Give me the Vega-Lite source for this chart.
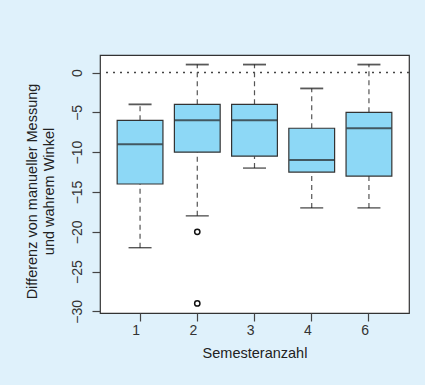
{
  "$schema": "https://vega.github.io/schema/vega-lite/v6.json",
  "autosize": {"type": "none"},
  "padding": {"left": 100, "top": 55, "right": 16, "bottom": 72},
  "width": 309,
  "height": 258,
  "background": "#dff1fb",
  "config": {
    "view": {"fill": "white", "stroke": "#333333", "strokeWidth": 1.2},
    "font": "Liberation Sans",
    "axis": {
      "labelFont": "Liberation Sans",
      "titleFont": "Liberation Sans",
      "labelFontSize": 14,
      "titleFontSize": 14.5,
      "titleFontWeight": "normal",
      "labelColor": "#333333",
      "titleColor": "#222222",
      "tickColor": "#444444",
      "domain": false,
      "grid": false,
      "tickSize": 8,
      "tickWidth": 1.2
    }
  },
  "datasets": {
    "boxes": [
      {"sem": "1", "lower": -22, "q1": -14, "median": -9, "q3": -6, "upper": -4},
      {"sem": "2", "lower": -18, "q1": -10, "median": -6, "q3": -4, "upper": 1},
      {"sem": "3", "lower": -12, "q1": -10.5, "median": -6, "q3": -4, "upper": 1},
      {"sem": "4", "lower": -17, "q1": -12.5, "median": -11, "q3": -7, "upper": -2},
      {"sem": "6", "lower": -17, "q1": -13, "median": -7, "q3": -5, "upper": 1}
    ],
    "outliers": [
      {"sem": "2", "value": -20},
      {"sem": "2", "value": -29}
    ]
  },
  "layer": [
    {
      "data": {"values": [{"ref": 0}]},
      "mark": {"type": "rule", "strokeDash": [2, 5], "color": "#444444", "strokeWidth": 1.3},
      "encoding": {"y": {"field": "ref", "type": "quantitative"}}
    },
    {
      "data": {"name": "boxes"},
      "mark": {"type": "rule", "strokeDash": [5, 4], "color": "#555555", "strokeWidth": 1.2},
      "encoding": {
        "x": {"field": "sem", "type": "nominal"},
        "y": {"field": "q3", "type": "quantitative"},
        "y2": {"field": "upper"}
      }
    },
    {
      "data": {"name": "boxes"},
      "mark": {"type": "rule", "strokeDash": [5, 4], "color": "#555555", "strokeWidth": 1.2},
      "encoding": {
        "x": {"field": "sem", "type": "nominal"},
        "y": {"field": "lower", "type": "quantitative"},
        "y2": {"field": "q1"}
      }
    },
    {
      "data": {"name": "boxes"},
      "mark": {"type": "bar", "fill": "#8dd8f6", "stroke": "#333333", "strokeWidth": 1.2},
      "encoding": {
        "x": {
          "field": "sem",
          "type": "nominal",
          "sort": null,
          "scale": {"type": "band", "paddingInner": 0.2, "paddingOuter": 0.3},
          "axis": {"title": "Semesteranzahl", "labelAngle": 0, "labelPadding": 9, "titlePadding": 9}
        },
        "y": {
          "field": "q1",
          "type": "quantitative",
          "scale": {"domain": [-30.2, 2.2], "nice": false, "zero": false},
          "axis": {
            "values": [-30, -25, -20, -15, -10, -5, 0],
            "labelAngle": -90,
            "labelAlign": "center",
            "labelBaseline": "bottom",
            "labelPadding": 8,
            "title": ["Differenz von manueller Messung", "und wahrem Winkel"],
            "titlePadding": 14,
            "titleLineHeight": 17,
            "titleY": 136
          }
        },
        "y2": {"field": "q3"}
      }
    },
    {
      "data": {"name": "boxes"},
      "mark": {"type": "tick", "color": "#222222", "thickness": 2, "size": 45},
      "encoding": {
        "x": {"field": "sem", "type": "nominal"},
        "y": {"field": "median", "type": "quantitative"}
      }
    },
    {
      "data": {"name": "boxes"},
      "mark": {"type": "tick", "color": "#111111", "thickness": 1.8, "size": 23},
      "encoding": {
        "x": {"field": "sem", "type": "nominal"},
        "y": {"field": "upper", "type": "quantitative"}
      }
    },
    {
      "data": {"name": "boxes"},
      "mark": {"type": "tick", "color": "#111111", "thickness": 1.4, "size": 23},
      "encoding": {
        "x": {"field": "sem", "type": "nominal"},
        "y": {"field": "lower", "type": "quantitative"}
      }
    },
    {
      "data": {"name": "outliers"},
      "mark": {"type": "point", "filled": false, "color": "#111111", "strokeWidth": 1.5, "size": 28, "opacity": 1},
      "encoding": {
        "x": {"field": "sem", "type": "nominal"},
        "y": {"field": "value", "type": "quantitative"}
      }
    }
  ]
}
